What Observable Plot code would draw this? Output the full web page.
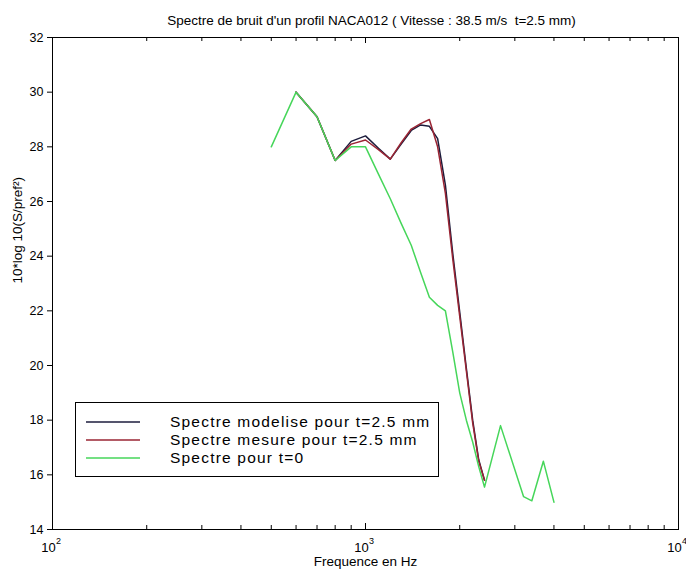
<!DOCTYPE html>
<html><head><meta charset="utf-8">
<script src="https://cdn.jsdelivr.net/npm/d3@7"></script>
<script src="https://cdn.jsdelivr.net/npm/@observablehq/plot@0.6"></script>
<style>
body{margin:0;background:#fff;}
#chart{width:686px;height:571px;}
</style></head><body><div id="chart"></div>
<script>
// Data
const freqT0 = [500,600,700,800,900,1000,1100,1200,1300,1400,1500,1600,1700,1800,1900,2000,2100,2200,2300,2400,2700,3200,3400,3700,4000];
const levelT0 = [28.0,30.0,29.1,27.5,28.0,28.0,27.0,26.1,25.2,24.4,23.4,22.5,22.2,22.0,20.5,19.0,18.0,17.2,16.3,15.55,17.8,15.2,15.05,16.5,15.0];
const freqT25 = [600,700,800,900,1000,1100,1200,1300,1400,1500,1600,1700,1800,1900,2000,2100,2200,2300,2400];
const levelModel = [30.0,29.1,27.5,28.2,28.4,27.95,27.55,28.1,28.6,28.8,28.75,28.3,26.6,24.1,21.95,19.9,18.0,16.55,15.8];
const levelMeasured = [30.0,29.1,27.5,28.1,28.25,27.9,27.55,28.15,28.65,28.85,29.0,28.0,26.3,23.9,21.8,19.8,17.9,16.5,15.8];
const seriesNames = ["Spectre modelise pour t=2.5 mm","Spectre mesure pour t=2.5 mm","Spectre pour t=0"];
const seriesColors = ["#1c1c3c","#9a2433","#46d65a"];
const yTicks = [14,16,18,20,22,24,26,28,30,32];
const xMajorTicks = [100,1000,10000];
const xMinorTicks = [200,300,400,500,600,700,800,900,2000,3000,4000,5000,6000,7000,8000,9000];
const titleText = "Spectre de bruit d'un profil NACA012 ( Vitesse : 38.5 m/s  t=2.5 mm)";
const xLabel = "Frequence en Hz";
const yLabel = "10*log 10(S/pref²)";

const rowsModel = freqT25.map((f,i)=>({f, v: levelModel[i]}));
const rowsMeasured = freqT25.map((f,i)=>({f, v: levelMeasured[i]}));
const rowsT0 = freqT0.map((f,i)=>({f, v: levelT0[i]}));

const W = 686, H = 571, mL = 52, mR = 8, mT = 37, mB = 42;
const frameH = H - mT - mB;
const font = "'Liberation Sans', Arial, Helvetica, sans-serif";

const chart = Plot.plot({
  width: W, height: H,
  marginLeft: mL, marginRight: mR, marginTop: mT, marginBottom: mB,
  style: {fontFamily: font, background: "#fff", color: "#000", fontSize: "12px"},
  x: {type: "log", domain: [100, 10000], axis: null},
  y: {domain: [14, 32], axis: null},
  marks: [
    Plot.frame({stroke: "#000", strokeWidth: 1}),
    Plot.axisY({ticks: yTicks, tickSize: 5, tickPadding: 4, fontSize: 12.5, label: null, stroke: "#000"}),
    Plot.tickX(xMinorTicks, {x: d => d, insetTop: frameH - 4, stroke: "#000"}),
    Plot.tickX(xMinorTicks, {x: d => d, insetBottom: frameH - 4, stroke: "#000"}),
    Plot.tickX(xMajorTicks, {x: d => d, insetTop: frameH - 6, stroke: "#000"}),
    Plot.tickX(xMajorTicks, {x: d => d, insetBottom: frameH - 6, stroke: "#000"}),
    Plot.text(xMajorTicks, {x: d => d, text: () => "10", frameAnchor: "bottom", lineAnchor: "bottom", dy: 22, dx: -4, fontSize: 13}),
    Plot.text(xMajorTicks, {x: d => d, text: d => String(Math.round(Math.log10(d))), frameAnchor: "bottom", lineAnchor: "bottom", dy: 14, dx: 6, fontSize: 9}),
    Plot.text([xLabel], {text: d => d, frameAnchor: "bottom", lineAnchor: "bottom", dy: 36, fontSize: 13.5}),
    Plot.text([titleText], {text: d => d, frameAnchor: "top", lineAnchor: "bottom", dy: -13, dx: 6, fontSize: 13.5}),
    Plot.text([yLabel], {text: d => d, frameAnchor: "left", rotate: -90, dx: -35, fontSize: 13.5}),
    Plot.line(rowsModel, {x: "f", y: "v", stroke: seriesColors[0], strokeWidth: 1.5}),
    Plot.line(rowsMeasured, {x: "f", y: "v", stroke: seriesColors[1], strokeWidth: 1.5}),
    Plot.line(rowsT0, {x: "f", y: "v", stroke: seriesColors[2], strokeWidth: 1.5})
  ]
});

document.getElementById("chart").appendChild(chart);

// Legend box inside the plot area
const svg = d3.select(chart);
const g = svg.append("g").attr("font-family", font).attr("text-anchor", "start");
g.append("rect").attr("x", 75.5).attr("y", 402.5).attr("width", 363).attr("height", 74)
  .attr("fill", "#fff").attr("stroke", "#000");
seriesNames.forEach((name, i) => {
  const cy = 422 + i * 18;
  g.append("line").attr("x1", 86).attr("x2", 140).attr("y1", cy).attr("y2", cy)
    .attr("stroke", seriesColors[i]).attr("stroke-width", 1.5);
  g.append("text").attr("x", 170).attr("y", cy).attr("dy", "0.35em")
    .attr("text-anchor", "start")
    .attr("font-size", 15.5).attr("letter-spacing", "1.2px")
    .attr("fill", "#000").text(name);
});
</script>
</body></html>
